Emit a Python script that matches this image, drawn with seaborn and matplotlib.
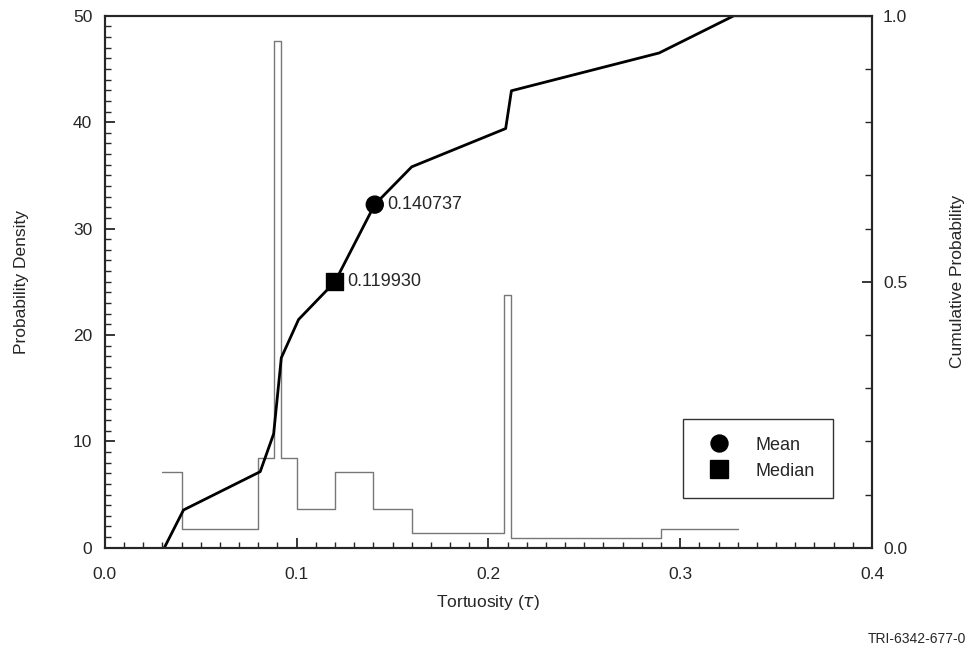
import numpy as np
import pandas as pd
import matplotlib
matplotlib.use("Agg")
import matplotlib.pyplot as plt
from matplotlib.ticker import MultipleLocator, FormatStrFormatter
import seaborn as sns

# ---- data ----
bin_edges = [0.03, 0.04, 0.08, 0.088, 0.092, 0.10, 0.12, 0.14, 0.16, 0.208, 0.212, 0.29, 0.33]
bin_density = [7.1, 1.8, 8.4, 47.6, 8.4, 3.6, 7.1, 3.6, 1.4, 23.8, 0.9, 1.8]

cdf_x = [0.031, 0.041, 0.081, 0.088, 0.092, 0.101, 0.12, 0.1407, 0.16, 0.209, 0.212, 0.289, 0.328, 0.40]
cdf_y = [0.0, 0.071, 0.143, 0.214, 0.357, 0.429, 0.50, 0.645, 0.716, 0.788, 0.859, 0.930, 1.0, 1.0]

stat_names = ["Mean", "Median"]
stat_x = [0.140737, 0.119930]
stat_y = [0.645, 0.50]

sns.set_style("ticks")
plt.rcParams["font.family"] = ["Liberation Sans", "DejaVu Sans"]

fig = plt.figure(figsize=(9.71, 6.56), dpi=100)
ax = fig.add_axes([0.108, 0.165, 0.790, 0.811])

# ---- 1) density histogram (outline only) ----
centers = [(a + b) / 2 for a, b in zip(bin_edges[:-1], bin_edges[1:])]
hist_df = pd.DataFrame({"x": centers, "w": bin_density})
sns.histplot(data=hist_df, x="x", weights="w", bins=bin_edges, stat="count",
             element="step", fill=False, color="#777777", linewidth=1.0, ax=ax)

ax.set_xlim(0, 0.4)
ax.set_ylim(0, 50)
ax.xaxis.set_major_locator(MultipleLocator(0.1))
ax.xaxis.set_minor_locator(MultipleLocator(0.01))
ax.xaxis.set_major_formatter(FormatStrFormatter("%.1f"))
ax.yaxis.set_major_locator(MultipleLocator(10))
ax.yaxis.set_minor_locator(MultipleLocator(1))
ax.tick_params(which="both", direction="in", labelsize=12.5, pad=14)
ax.tick_params(which="major", length=7, width=1.3)
ax.tick_params(which="minor", length=4, width=1.0)
ax.tick_params(axis="y", which="both", right=False, pad=9)
ax.set_xlabel(r"Tortuosity ($\tau$)", fontsize=12.5, labelpad=8)
ax.set_ylabel("Probability Density", fontsize=12.5, labelpad=32)

# ---- 2) cumulative curve on the right axis ----
ax2 = ax.twinx()
cdf_df = pd.DataFrame({"x": cdf_x, "y": cdf_y})
sns.lineplot(data=cdf_df, x="x", y="y", color="black", linewidth=2.0,
             sort=False, ax=ax2)
stat_df = pd.DataFrame({"x": stat_x, "y": stat_y, "stat": stat_names})
sns.scatterplot(data=stat_df, x="x", y="y", style="stat",
                markers={"Mean": "o", "Median": "s"}, color="black",
                s=150, edgecolor="black", ax=ax2, zorder=5)
for sx, sy in zip(stat_x, stat_y):
    ax2.annotate(f"{sx:.6f}", (sx, sy), xytext=(9, 0), textcoords="offset points",
                 va="center", ha="left", fontsize=13)

ax2.set_ylim(0, 1.0)
ax2.set_xlim(0, 0.4)
ax2.yaxis.set_major_locator(MultipleLocator(0.5))
ax2.yaxis.set_minor_locator(MultipleLocator(0.1))
ax2.yaxis.set_major_formatter(FormatStrFormatter("%.1f"))
ax2.tick_params(which="both", direction="in", labelsize=12.5, pad=8)
ax2.tick_params(which="major", length=7, width=1.3)
ax2.tick_params(which="minor", length=5, width=1.0)
ax2.set_ylabel("Cumulative Probability", fontsize=12.5, labelpad=31)
ax2.set_xlabel("")

for a in (ax, ax2):
    for sp in a.spines.values():
        sp.set_linewidth(1.5)
        sp.set_visible(True)

leg = ax2.legend(loc="lower right", bbox_to_anchor=(0.949, 0.094), title=None,
                 fontsize=13, frameon=True, fancybox=False, edgecolor="black",
                 borderpad=1.0, handletextpad=1.0, labelspacing=0.5,
                 borderaxespad=0.0, markerscale=1.0)
leg.get_frame().set_linewidth(1.0)

fig.text(0.995, 0.015, "TRI-6342-677-0", ha="right", va="bottom", fontsize=10)

fig.savefig("out.png", dpi=100)
